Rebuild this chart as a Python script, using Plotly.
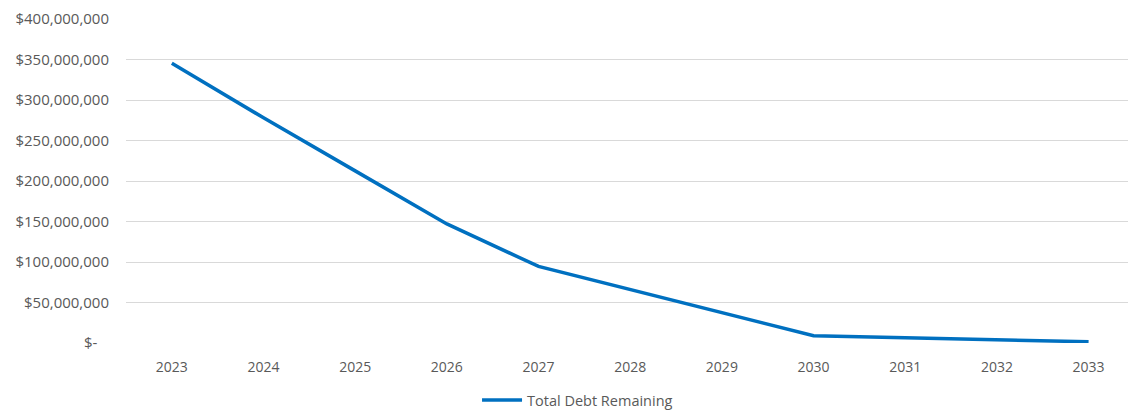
import plotly.graph_objects as go

# Remaining debt by year (USD)
years = ["2023", "2024", "2025", "2026", "2027", "2028", "2029", "2030", "2031", "2032", "2033"]
debt_remaining = [345_500_000, 278_000_000, 212_500_000, 147_000_000, 94_500_000,
                  65_800_000, 37_000_000, 9_000_000, 6_500_000, 3_700_000, 1_500_000]

y_tick_values = [0, 50_000_000, 100_000_000, 150_000_000, 200_000_000,
                 250_000_000, 300_000_000, 350_000_000, 400_000_000]
y_tick_labels = ["$-\u00a0\u00a0\u00a0", "$50,000,000", "$100,000,000", "$150,000,000", "$200,000,000",
                 "$250,000,000", "$300,000,000", "$350,000,000", "$400,000,000"]

text_color = "#595959"
font_family = "Open Sans, Noto Sans, sans-serif"

fig = go.Figure()
fig.add_trace(go.Scatter(
    x=years,
    y=debt_remaining,
    mode="lines",
    name="Total Debt Remaining",
    line=dict(color="#0070C0", width=3.5),
))

fig.update_layout(
    width=1128,
    height=412,
    margin=dict(l=126, r=0, t=19, b=69),
    paper_bgcolor="white",
    plot_bgcolor="white",
    font=dict(family=font_family, size=14, color=text_color),
    showlegend=True,
    legend=dict(
        orientation="h",
        x=0.512,
        xref="container",
        xanchor="center",
        y=1 - 384 / 412,
        yref="container",
        yanchor="top",
        font=dict(size=14.5, color=text_color),
        itemwidth=40,
        bgcolor="rgba(0,0,0,0)",
    ),
)

fig.update_xaxes(
    type="category",
    range=[-0.5, len(years) - 0.57],
    showgrid=False,
    showline=False,
    zeroline=False,
    ticks="",
    tickfont=dict(size=14, color=text_color),
    ticklabelstandoff=14,
)

fig.update_yaxes(
    range=[0, 400_000_000],
    tickvals=y_tick_values,
    ticktext=y_tick_labels,
    showgrid=True,
    gridcolor="#D9D9D9",
    gridwidth=1,
    zeroline=False,
    showline=False,
    ticks="",
    tickfont=dict(size=15, color=text_color),
    ticklabelstandoff=16,
)

fig.write_html("out.html")
